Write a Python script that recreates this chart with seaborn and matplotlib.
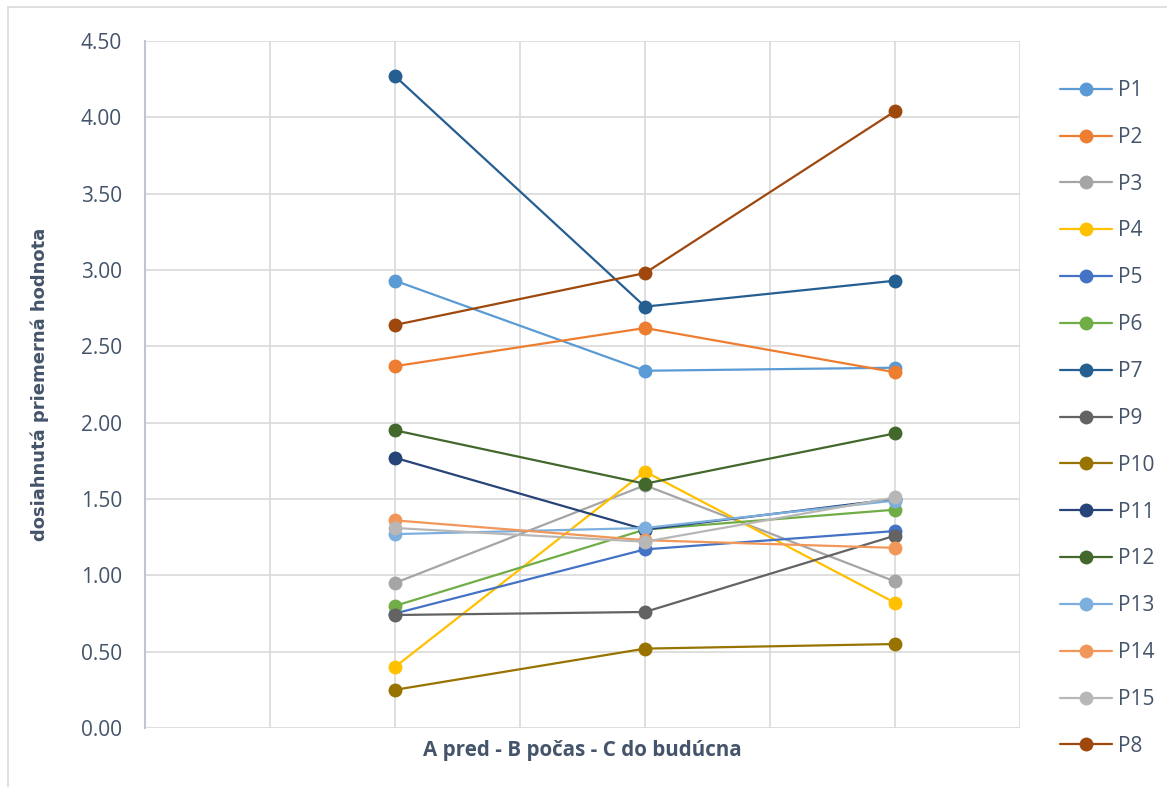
import matplotlib
matplotlib.use("Agg")
import matplotlib.pyplot as plt
from matplotlib.lines import Line2D
from matplotlib.patches import Rectangle
import pandas as pd
import seaborn as sns

# Stages of the survey and their positions on the horizontal axis
stages = ["A pred", "B počas", "C do budúcna"]
stage_x = [2, 4, 6]

# Average achieved value per respondent group (A, B, C)
P1 = [2.93, 2.34, 2.36]
P2 = [2.37, 2.62, 2.33]
P3 = [0.95, 1.59, 0.96]
P4 = [0.40, 1.68, 0.82]
P5 = [0.75, 1.17, 1.29]
P6 = [0.80, 1.30, 1.43]
P7 = [4.27, 2.76, 2.93]
P9 = [0.74, 0.76, 1.26]
P10 = [0.25, 0.52, 0.55]
P11 = [1.77, 1.30, 1.50]
P12 = [1.95, 1.60, 1.93]
P13 = [1.27, 1.31, 1.49]
P14 = [1.36, 1.23, 1.18]
P15 = [1.31, 1.22, 1.51]
P8 = [2.64, 2.98, 4.04]

series_names = ["P1", "P2", "P3", "P4", "P5", "P6", "P7", "P9", "P10",
                "P11", "P12", "P13", "P14", "P15", "P8"]
series_values = [P1, P2, P3, P4, P5, P6, P7, P9, P10,
                 P11, P12, P13, P14, P15, P8]
series_colors = ["#5B9BD5", "#ED7D31", "#A5A5A5", "#FFC000", "#4472C4",
                 "#70AD47", "#255E91", "#636363", "#997300", "#264478",
                 "#43682B", "#7CAFDD", "#F1975A", "#B7B7B7", "#9E480E"]
palette = dict(zip(series_names, series_colors))

rows = []
for name, vals in zip(series_names, series_values):
    for st, xv, v in zip(stages, stage_x, vals):
        rows.append({"series": name, "stage": st, "x": xv, "value": v})
df = pd.DataFrame(rows)

sns.set_theme(style="white")
plt.rcParams["font.family"] = ["Open Sans", "DejaVu Sans"]
text_color = "#44546A"

fig = plt.figure(figsize=(11.67, 7.87), dpi=100)
W, H = 1167, 787
ax = fig.add_axes([145 / W, 1 - 728 / H, (1020 - 145) / W, (728 - 41) / H])

sns.lineplot(data=df, x="x", y="value", hue="series", hue_order=series_names,
             palette=palette, marker="o", markersize=10, markeredgewidth=0,
             linewidth=1.6, sort=False, estimator=None, legend=False, ax=ax)

ax.set_xlim(0, 7)
ax.set_ylim(0, 4.5)
ax.set_xticks(range(0, 8))
ax.set_xticklabels([])
ax.set_yticks([i * 0.5 for i in range(10)])
ax.set_yticklabels([f"{i * 0.5:.2f}" for i in range(10)])
ax.grid(True, color="#D9D9D9", linewidth=1.2)
ax.set_axisbelow(True)
ax.tick_params(axis="y", length=0, pad=16.5, labelsize=15, labelcolor=text_color)
ax.tick_params(axis="x", length=0, pad=1)
for side in ["top", "right", "bottom"]:
    ax.spines[side].set_visible(False)
ax.spines["left"].set_color("#BFC5D2")
ax.spines["left"].set_linewidth(1.5)

ax.set_xlabel("A pred - B počas - C do budúcna", fontsize=14.9, fontweight="bold",
              color=text_color, labelpad=7.5)
ax.set_ylabel("dosiahnutá priemerná hodnota", fontsize=13, fontweight="bold",
              color=text_color, labelpad=23,
              family=["Liberation Sans Narrow", "DejaVu Sans"])

handles = [Line2D([], [], color=c, marker="o", markersize=10, markeredgewidth=0,
                  linewidth=1.6) for c in series_colors]
fig.legend(handles, series_names, loc="upper left",
           bbox_to_anchor=(1060 / W, 1 - 80 / H), frameon=False,
           fontsize=15, labelcolor=text_color, handlelength=2.5,
           handletextpad=0.3, labelspacing=1.24, borderpad=0, borderaxespad=0)

# Light frame around the whole chart
fig.patches.append(Rectangle((8 / W, -0.01), 1.0, 1 - 7 / H + 0.01,
                             transform=fig.transFigure, fill=False,
                             edgecolor="#D9D9D9", linewidth=1.2))

fig.savefig("out.png", dpi=100)
